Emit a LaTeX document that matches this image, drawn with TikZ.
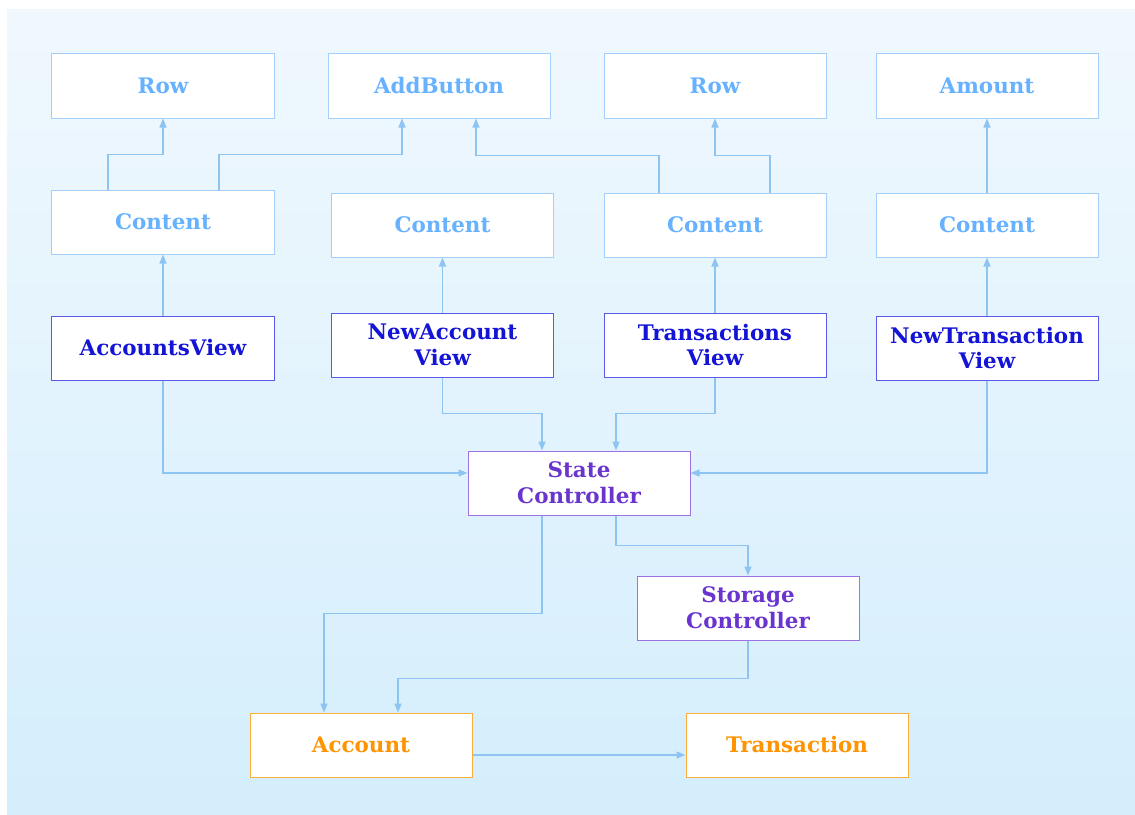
\documentclass[tikz,border=0pt]{standalone}
\usepackage{fontspec}
\setmainfont{DejaVu Serif}
\usetikzlibrary{arrows.meta,positioning}
\definecolor{bgtop}{HTML}{F0F8FE}
\definecolor{bgbot}{HTML}{D4EEFC}
\definecolor{lbord}{HTML}{A3CFFA}
\definecolor{ltext}{HTML}{66B2FF}
\definecolor{vbord}{HTML}{5A5AEA}
\definecolor{vtext}{HTML}{1414D6}
\definecolor{cbord}{HTML}{9E72E2}
\definecolor{ctext}{HTML}{6A35CF}
\definecolor{ebord}{HTML}{FFAD3A}
\definecolor{etext}{HTML}{FF9300}
\definecolor{edgec}{HTML}{8EC4F2}
\tikzset{
  box/.style={draw, fill=white, line width=1bp, minimum width=222bp, minimum height=64bp,
    inner sep=0pt, align=center, font=\fontsize{21.5}{26}\selectfont\bfseries},
  lbox/.style={box, draw=lbord, text=ltext},
  vbox/.style={box, draw=vbord, text=vtext},
  cbox/.style={box, draw=cbord, text=ctext},
  ebox/.style={box, draw=ebord, text=etext},
  edge/.style={draw=edgec, line width=1.4bp, -{Triangle[length=9bp,width=7bp]}}
}
\begin{document}
\begin{tikzpicture}[x=1bp,y=-1bp]
\useasboundingbox (0,0) rectangle (1135,815);
\shade[top color=bgtop, bottom color=bgbot] (7,10) rectangle (1135,815);
% row 1
\node[lbox] (r1) at (163,86) {Row};
\node[lbox] (ab) at (439,86) {AddButton};
\node[lbox] (r2) at (715,86) {Row};
\node[lbox] (am) at (987,86) {Amount};
% row 2
\node[lbox] (c1) at (163,222) {Content};
\node[lbox] (c2) at (442.5,225) {Content};
\node[lbox] (c3) at (715,225) {Content};
\node[lbox] (c4) at (987,225) {Content};
% row 3
\node[vbox] (av) at (163,348) {AccountsView};
\node[vbox] (nav) at (442.5,345) {NewAccount\\View};
\node[vbox] (tv) at (715,345) {Transactions\\View};
\node[vbox] (ntv) at (987,348) {NewTransaction\\View};
% controllers
\node[cbox] (sc) at (579,483) {State\\Controller};
\node[cbox] (st) at (748,608) {Storage\\Controller};
% entities
\node[ebox] (acc) at (361,745) {Account};
\node[ebox] (tr) at (797,745) {Transaction};
% edges top
\draw[edge] ([xshift=-55bp]c1.north) -- ++(0,-35) -| (r1.south);
\draw[edge] ([xshift=56bp]c1.north) -- ++(0,-35) -| ([xshift=-37bp]ab.south);
\draw[edge] ([xshift=-56bp]c3.north) -- ++(0,-37) -| ([xshift=37bp]ab.south);
\draw[edge] ([xshift=55bp]c3.north) -- ++(0,-37) -| (r2.south);
\draw[edge] (c4.north) -- (am.south);
\draw[edge] (av.north) -- (c1.south);
\draw[edge] (nav.north) -- (c2.south);
\draw[edge] (tv.north) -- (c3.south);
\draw[edge] (ntv.north) -- (c4.south);
% views to state controller
\draw[edge] (av.south) |- ([yshift=10bp]sc.west);
\draw[edge] (ntv.south) |- ([yshift=10bp]sc.east);
\draw[edge] (nav.south) -- ++(0,36) -| ([xshift=-37bp]sc.north);
\draw[edge] (tv.south) -- ++(0,36) -| ([xshift=37bp]sc.north);
% controllers
\draw[edge] ([xshift=-37bp]sc.south) -- ++(0,98) -| ([xshift=-37bp]acc.north);
\draw[edge] ([xshift=37bp]sc.south) -- ++(0,30) -| (st.north);
\draw[edge] (st.south) -- ++(0,38) -| ([xshift=37bp]acc.north);
\draw[edge] ([yshift=-10bp]acc.east) -- ([yshift=-10bp]tr.west);
\end{tikzpicture}
\end{document}
